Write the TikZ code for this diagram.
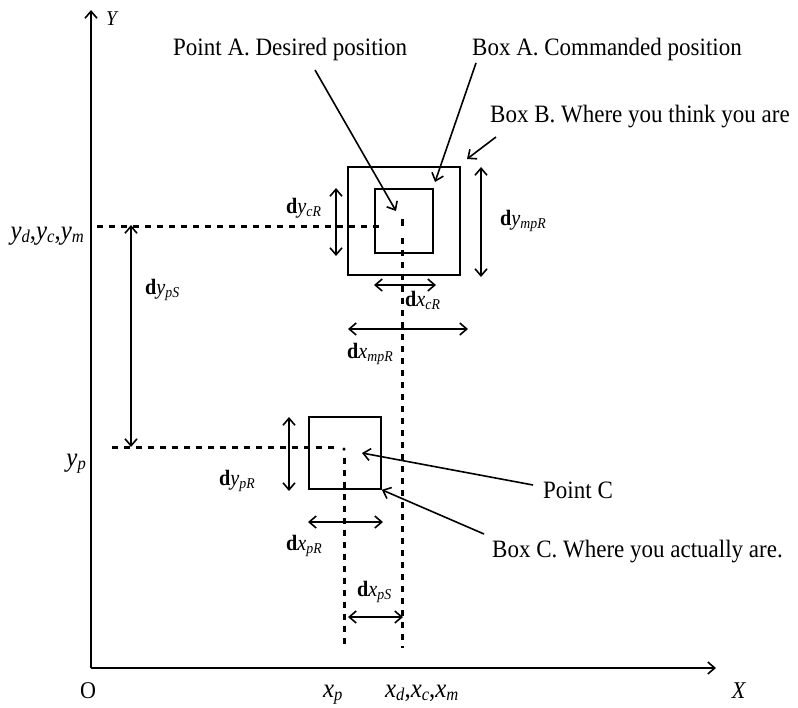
\documentclass[tikz,border=0pt]{standalone}
\usepackage{fontspec}
\setmainfont{Liberation Serif}[FakeStretch=0.92]
\usetikzlibrary{arrows.meta}
\newcommand\dimlab[2]{\textbf{d}\textit{#1}\raisebox{-0.3ex}{\fontsize{15}{15}\selectfont\textit{#2}}}
\newcommand\axlab[2]{\textit{#1}\raisebox{-0.25ex}{\fontsize{18}{18}\selectfont\textit{#2}}}
\begin{document}
\begin{tikzpicture}[x=1pt,y=-1pt,
  ln/.style={line width=1.6pt},
  tip/.tip={Straight Barb[length=7pt,width=12pt]},
  arr/.style={ln,-tip},
  dbl/.style={ln,tip-tip},
  dsh/.style={line width=3pt,dash pattern=on 6pt off 6pt},
  box/.style={draw,ln,inner sep=0pt},
  txt/.style={font=\fontsize{25}{30}\selectfont,inner sep=0pt},
  dlab/.style={font=\fontsize{22}{24}\selectfont,inner sep=0pt},
  alab/.style={font=\fontsize{27}{30}\selectfont,inner sep=0pt},
  olab/.style={font=\fontsize{24}{28}\selectfont,inner sep=0pt}]
\useasboundingbox (0,0) rectangle (798,707);
% axes
\coordinate (O) at (91,668);
\coordinate (Ytop) at (91,10);
\coordinate (Xend) at (716,668);
\draw[arr] (O) -- (Ytop);
\draw[arr] (O) -- (Xend);
\node[olab,anchor=base west,font=\fontsize{21}{24}\selectfont] (Ylab) at (106,25) {\textit{Y}};
\node[olab,anchor=base] (Xlab) at (739,698) {\textit{X}};
\node[olab,anchor=base] (Olab) at (88,698) {O};
\node[alab,anchor=base west] (xplab) at (323,697) {\axlab{x}{p}};
\node[alab,anchor=base west] (xdlab) at (385,697) {\axlab{x}{d},\axlab{x}{c},\axlab{x}{m}};
\node[alab,anchor=base east] (ydlab) at (84,239) {\axlab{y}{d},\axlab{y}{c},\axlab{y}{m}};
\node[alab,anchor=base east] (yplab) at (86,466) {\axlab{y}{p}};
% boxes
\node[box,minimum width=112pt,minimum height=108pt] (boxB) at (404,221) {};
\node[box,minimum width=58pt,minimum height=64pt] (boxA) at (404,221) {};
\node[box,minimum width=72pt,minimum height=72pt] (boxC) at (345,453) {};
\node[fill,inner sep=0pt,minimum width=3pt,minimum height=7pt] (ptA) at (402,222) {};
\node[fill,circle,inner sep=0pt,minimum size=3.5pt] (ptC) at (344,449) {};
% dashed guides
\draw[dsh] (97,226) -- (384,226);
\draw[dsh] (402,238) -- (402,648);
\draw[dsh] (112,447) -- (336,447);
\draw[dsh] (344,458) -- (344,646);
% callout texts
\node[txt,anchor=base west] (tA) at (173,55) {Point A. Desired position};
\node[txt,anchor=base west] (tBA) at (472,55) {Box A. Commanded position};
\node[txt,anchor=base west] (tBB) at (490,122) {Box B. Where you think you are};
\node[txt,anchor=base west] (tC) at (543,498) {Point C};
\node[txt,anchor=base west] (tBC) at (492,557) {Box C. Where you actually are.};
% callout arrows
\coordinate (sA) at (315,70);   \coordinate (eA) at (396,211);
\coordinate (sBA) at (476,63);  \coordinate (eBA) at (435,182);
\coordinate (sBB) at (496,137); \coordinate (eBB) at (467,159);
\coordinate (sC) at (533,485);  \coordinate (eC) at (362,453);
\coordinate (sBC) at (484,534);
\draw[arr] (sA) -- (eA);
\draw[arr] (sBA) -- (eBA);
\draw[arr] (sBB) -- (eBB);
\draw[arr] (sC) -- (eC);
\draw[arr] (sBC) -- (boxC.south east);
% dimension arrows
\draw[dbl] (336,188) -- (336,256);
\draw[dbl] (481,167) -- (481,277);
\draw[dbl] (374,285) -- (436,285);
\draw[dbl] (348,329) -- (468,329);
\draw[dbl] (131,225) -- (131,447);
\draw[dbl] (289,417) -- (289,491);
\draw[dbl] (308,522) -- (383,522);
\draw[dbl] (348,617) -- (403,617);
% dimension labels
\node[dlab,anchor=base west] (lycR) at (286,213) {\dimlab{y}{cR}};
\node[dlab,anchor=base west] (lympR) at (500,225) {\dimlab{y}{mpR}};
\node[dlab,anchor=base west] (lxcR) at (405,306) {\dimlab{x}{cR}};
\node[dlab,anchor=base west] (lxmpR) at (347,358) {\dimlab{x}{mpR}};
\node[dlab,anchor=base west] (lypS) at (145,294) {\dimlab{y}{pS}};
\node[dlab,anchor=base west] (lypR) at (219,485) {\dimlab{y}{pR}};
\node[dlab,anchor=base west] (lxpR) at (286,550) {\dimlab{x}{pR}};
\node[dlab,anchor=base west] (lxpS) at (357,596) {\dimlab{x}{pS}};
\end{tikzpicture}
\end{document}
